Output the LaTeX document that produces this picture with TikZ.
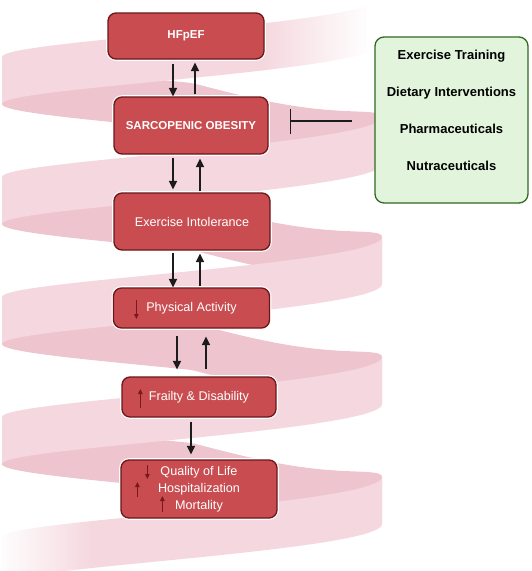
\documentclass[tikz,border=0pt]{standalone}
\usepackage{fontspec}
\setmainfont{Liberation Sans}
\usetikzlibrary{arrows.meta,fadings}
\definecolor{bandfront}{RGB}{245,216,223}
\definecolor{bandback}{RGB}{238,197,206}
\definecolor{boxred}{RGB}{201,77,80}
\definecolor{boxedge}{RGB}{106,22,26}
\definecolor{smallarr}{RGB}{122,24,30}
\definecolor{greenfill}{RGB}{226,245,220}
\definecolor{greenedge}{RGB}{46,106,32}
\definecolor{arrblack}{RGB}{28,28,28}
\def\hx{192+190*cos(\t)}
\def\hy{117+0.33336*\t+4*sin(\t)+30*max(cos(\t),0)*(max(-sin(\t),0))^2}
\def\hyb{164+0.33336*\t+4*sin(\t)+30*max(cos(\t),0)*(max(-sin(\t),0))^2}
\newcommand\helixband[3]{\fill[#3] plot[domain=#1:#2, samples=100, variable=\t] ({\hx},{\hy}) -- plot[domain=#2:#1, samples=100, variable=\t] ({\hx},{\hyb}) -- cycle;}
\begin{document}
\begin{tikzpicture}[x=1pt,y=-1pt,
  redbox/.style={draw=boxedge, fill=boxred, line width=1.3pt, rounded corners=8pt, text=white, inner sep=0pt, preaction={draw=white, line width=3.6pt}},
  boldtxt/.style={font=\bfseries\fontsize{11.5}{14}\selectfont},
  regtxt/.style={font=\fontsize{12.6}{17}\selectfont},
  greenbox/.style={draw=greenedge, fill=greenfill, line width=1.3pt, rounded corners=9pt},
  gtext/.style={font=\bfseries\fontsize{13}{37}\selectfont, align=center, text=black},
  flow/.style={draw=arrblack, line width=1.5pt, -{Triangle[width=8pt,length=8.5pt]}},
  innerarr/.style={draw=smallarr, line width=1.2pt, -{Triangle[width=4.5pt,length=5pt]}},
  inhib/.style={draw=arrblack, line width=1.8pt, -{Bar[width=25pt]}},
  ]
\useasboundingbox (0,0) rectangle (532,571);
% ribbon: back halves first, then front halves
\helixband{-180}{0}{bandback}
\helixband{180}{360}{bandback}
\helixband{540}{720}{bandback}
\helixband{900}{1080}{bandback}
\helixband{-360}{-180}{bandfront}
\helixband{0}{180}{bandfront}
\helixband{360}{540}{bandfront}
\helixband{720}{900}{bandfront}
\helixband{1080}{1260}{bandfront}
% fades at the two ends of the ribbon
\fill[white, path fading=west] (262,-5) rectangle (368,72);
\fill[white] (367,-5) rectangle (395,72);
\fill[white, path fading=east] (-2,488) rectangle (92,575);
% boxes
\node[redbox, boldtxt, minimum width=156pt, minimum height=46pt] (hf) at (186,36) {HFpEF};
\node[redbox, boldtxt, minimum width=154pt, minimum height=57pt] (so) at (191,125.5) {SARCOPENIC OBESITY};
\node[redbox, regtxt, minimum width=156pt, minimum height=57pt] (ei) at (192,221.5) {Exercise Intolerance};
\node[redbox, regtxt, minimum width=156pt, minimum height=40pt] (pa) at (191.5,308) {Physical Activity};
\node[redbox, regtxt, minimum width=154pt, minimum height=40pt] (fd) at (199,397) {Frailty \& Disability};
\node[redbox, regtxt, minimum width=156pt, minimum height=58pt, align=center] (ql) at (199,489) {Quality of Life\\Hospitalization\\Mortality};
\node[greenbox, minimum width=153pt, minimum height=166pt] (gb) at (451.5,120) {};
\node[gtext] (gt) at (451.5,110.5) {Exercise Training\\Dietary Interventions\\Pharmaceuticals\\Nutraceuticals};
% flow arrows
\draw[flow, shorten <=4pt] ([xshift=-13pt]hf.south) -- ([xshift=-13pt]hf.south |- so.north);
\draw[flow, shorten <=2pt, shorten >=3pt] ([xshift=4pt]so.north) -- ([xshift=4pt]so.north |- hf.south);
\draw[flow, shorten <=3pt, shorten >=3pt] ([xshift=-18pt]so.south) -- ([xshift=-18pt]so.south |- ei.north);
\draw[flow, shorten <=1pt, shorten >=4pt] ([xshift=8pt]ei.north) -- ([xshift=8pt]ei.north |- so.south);
\draw[flow, shorten <=2pt] ([xshift=-19pt]ei.south) -- ([xshift=-19pt]ei.south |- pa.north);
\draw[flow, shorten <=1pt, shorten >=3pt] ([xshift=8.5pt]pa.north) -- ([xshift=8.5pt]pa.north |- ei.south);
\draw[flow, shorten <=7pt, shorten >=7pt] ([xshift=-14.5pt]pa.south) -- ([xshift=-14.5pt]pa.south |- fd.north);
\draw[flow, shorten <=7pt, shorten >=8pt] ([xshift=7pt]fd.north) -- ([xshift=7pt]fd.north |- pa.south);
\draw[flow, shorten <=4pt, shorten >=5pt] ([xshift=-8pt]fd.south) -- ([xshift=-8pt]fd.south |- ql.north);
% inhibition
\coordinate (inhy) at (0,121);
\draw[inhib, shorten <=22pt, shorten >=21pt] (gb.west |- inhy) -- (so.east |- inhy);
% small trend arrows inside boxes
\draw[innerarr] ([xshift=23.5pt,yshift=8pt]pa.west) -- ([xshift=23.5pt,yshift=-11pt]pa.west);
\draw[innerarr] ([xshift=19pt,yshift=-11pt]fd.west) -- ([xshift=19pt,yshift=8pt]fd.west);
\draw[innerarr] ([xshift=27pt,yshift=24pt]ql.west) -- ([xshift=27pt,yshift=10pt]ql.west);
\draw[innerarr] ([xshift=17pt,yshift=-8pt]ql.west) -- ([xshift=17pt,yshift=7pt]ql.west);
\draw[innerarr] ([xshift=42pt,yshift=-23pt]ql.west) -- ([xshift=42pt,yshift=-7pt]ql.west);
\end{tikzpicture}
\end{document}
